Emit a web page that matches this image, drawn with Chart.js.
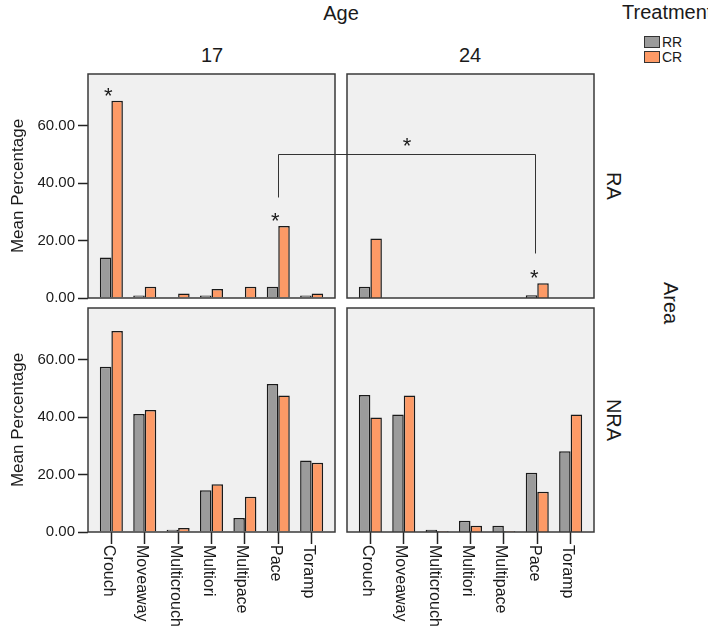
<!DOCTYPE html>
<html>
<head>
<meta charset="utf-8">
<script src="https://cdn.jsdelivr.net/npm/chart.js@4.4.1/dist/chart.umd.min.js"></script>
<style>
  body { margin: 0; background: #fff; width: 708px; height: 637px; position: relative; overflow: hidden;
         font-family: Arial, "Liberation Sans", sans-serif; color: #1a1a1a; }
  canvas { position: absolute; left: 0; top: 0; }
  .lbl { position: absolute; white-space: nowrap; line-height: 1; transform: translate(-50%, -50%); }
  .rot { transform: translate(-50%, -50%) rotate(90deg); }
  .key { position: absolute; width: 14px; height: 10px; border: 1.5px solid #333; }
</style>
</head>
<body>
<div class="lbl" style="left:341px;top:13px;font-size:20px">Age</div>
<div class="lbl" style="left:212px;top:55px;font-size:20px">17</div>
<div class="lbl" style="left:470px;top:55px;font-size:20px">24</div>
<div class="lbl rot" style="left:614px;top:186px;font-size:20px">RA</div>
<div class="lbl rot" style="left:614px;top:420px;font-size:20px">NRA</div>
<div class="lbl rot" style="left:671px;top:303px;font-size:20px">Area</div>
<div class="lbl" style="left:622px;top:12px;font-size:20px;transform:translate(0,-50%)">Treatment</div>
<div class="key" style="left:644px;top:36px;background:#9b9b9b"></div>
<div class="lbl" style="left:662px;top:42px;font-size:14px;transform:translate(0,-50%)">RR</div>
<div class="key" style="left:644px;top:51px;background:#fd9a66"></div>
<div class="lbl" style="left:662px;top:57px;font-size:14px;transform:translate(0,-50%)">CR</div>

<canvas id="c0" width="708" height="637"></canvas>
<canvas id="c1" width="708" height="637"></canvas>
<canvas id="c2" width="708" height="637"></canvas>
<canvas id="c3" width="708" height="637"></canvas>

<script>
// categories and tick values
const categories = ["Crouch", "Moveaway", "Multicrouch", "Multiori", "Multipace", "Pace", "Toramp"];
const treatments = ["RR", "CR"];
const yTicks = [0, 20, 40, 60];
const yMax = 78;

// mean percentage per panel (Area x Age), one array per treatment
const ra17RR  = [14.1, 0.9, null, 0.9, null, 3.9, 0.9];
const ra17CR  = [68.7, 3.9, 1.6, 3.1, 3.9, 25.1, 1.6];
const ra24RR  = [3.9, null, null, null, null, 1.0, null];
const ra24CR  = [20.7, null, null, null, null, 5.1, null];
const nra17RR = [57.5, 41.1, 0.8, 14.5, 4.9, 51.5, 24.9];
const nra17CR = [70.0, 42.5, 1.4, 16.6, 12.3, 47.5, 24.1];
const nra24RR = [47.7, 40.9, 0.8, 3.9, 2.2, 20.6, 28.1];
const nra24CR = [39.9, 47.5, 0.3, 2.2, 0.3, 14.0, 40.9];

// significance marks
const starCats = [["RA", "17", "Crouch"], ["RA", "17", "Pace"], ["RA", "24", "Pace"]];
const bracketCat = "Pace";
const bracketFrom = 35;   // level on 17 side
const bracketTop = 50;
const bracketTo = 15.5;   // level on 24 side

const colors = { RR: "#9b9b9b", CR: "#fd9a66" };
Chart.defaults.font.family = 'Arial, "Liberation Sans", sans-serif';
Chart.defaults.color = "#1a1a1a";

const panels = [
  { id: "c0", area: "RA",  age: "17", rr: ra17RR,  cr: ra17CR,  left: 88,  right: 335, top: 74,  bottom: 298 },
  { id: "c1", area: "RA",  age: "24", rr: ra24RR,  cr: ra24CR,  left: 347, right: 594, top: 74,  bottom: 298 },
  { id: "c2", area: "NRA", age: "17", rr: nra17RR, cr: nra17CR, left: 88,  right: 335, top: 308, bottom: 532 },
  { id: "c3", area: "NRA", age: "24", rr: nra24RR, cr: nra24CR, left: 347, right: 594, top: 308, bottom: 532 }
];

const charts = [];

const panelFrame = {
  id: "panelFrame",
  beforeDraw(chart) {
    const a = chart.chartArea, ctx = chart.ctx;
    ctx.save();
    ctx.fillStyle = "#f0f0f0";
    ctx.fillRect(a.left, a.top, a.right - a.left, a.bottom - a.top);
    ctx.restore();
  },
  afterDatasetsDraw(chart) {
    const a = chart.chartArea, ctx = chart.ctx;
    ctx.save();
    ctx.strokeStyle = "#3a3a3a";
    ctx.lineWidth = 1.5;
    ctx.strokeRect(a.left, a.top, a.right - a.left, a.bottom - a.top);
    ctx.restore();
  }
};

const extras = {
  id: "extras",
  afterDraw(chart, args, opts) {
    const p = opts.panel, ctx = chart.ctx;
    const xs = chart.scales.x, ys = chart.scales.y;
    ctx.save();
    ctx.fillStyle = "#1a1a1a";
    // category labels under the bottom row
    if (p.area === "NRA") {
      ctx.font = "16px Arial, 'Liberation Sans', sans-serif";
      ctx.textAlign = "left";
      ctx.textBaseline = "middle";
      categories.forEach((c, i) => {
        ctx.save();
        ctx.translate(xs.getPixelForValue(i) - 3, chart.chartArea.bottom + 13);
        ctx.rotate(Math.PI / 2);
        ctx.fillText(c, 0, 0);
        ctx.restore();
      });
    }
    // asterisks
    ctx.font = "22px Arial, 'Liberation Sans', sans-serif";
    ctx.textAlign = "center";
    ctx.textBaseline = "middle";
    starCats.filter(s => s[0] === p.area && s[1] === p.age).forEach(s => {
      const i = categories.indexOf(s[2]);
      const top = Math.max(p.rr[i] || 0, p.cr[i] || 0);
      ctx.fillText("*", xs.getPixelForValue(i) - 3, ys.getPixelForValue(top) - 4);
    });
    // bracket between Pace 17 and Pace 24 (RA)
    if (p.area === "RA" && p.age === "24" && charts[0]) {
      const a = charts[0];
      const i = categories.indexOf(bracketCat);
      const x1 = Math.round(a.scales.x.getPixelForValue(i)) + 0.5;
      const x2 = Math.round(xs.getPixelForValue(i)) - 1.5;
      const yT = Math.round(ys.getPixelForValue(bracketTop)) + 0.5;
      ctx.strokeStyle = "#333";
      ctx.lineWidth = 1;
      ctx.beginPath();
      ctx.moveTo(x1, a.scales.y.getPixelForValue(bracketFrom));
      ctx.lineTo(x1, yT);
      ctx.lineTo(x2, yT);
      ctx.lineTo(x2, ys.getPixelForValue(bracketTo));
      ctx.stroke();
      ctx.fillText("*", (x1 + x2) / 2, yT - 8);
    }
    ctx.restore();
  }
};

panels.forEach(p => {
  const showY = p.left < 100;
  const showX = p.area === "NRA";
  const chart = new Chart(document.getElementById(p.id), {
    type: "bar",
    data: {
      datasets: treatments.map(t => ({
        label: t,
        data: (t === "RR" ? p.rr : p.cr).map((v, i) => ({ x: i, y: v })),
        backgroundColor: colors[t],
        borderColor: "#1a1a1a",
        borderWidth: 1.5,
        categoryPercentage: 0.69,
        barPercentage: 1
      }))
    },
    options: {
      responsive: false,
      animation: false,
      devicePixelRatio: 1,
      layout: { padding: { left: showY ? 0 : p.left, right: 708 - p.right, top: p.top, bottom: 637 - p.bottom } },
      plugins: { legend: { display: false }, tooltip: { enabled: false }, extras: { panel: p } },
      scales: {
        x: {
          type: "linear",
          min: -0.7,
          max: 6.7,
          offset: false,
          display: showX,
          afterBuildTicks: s => { s.ticks = categories.map((c, i) => ({ value: i })); },
          afterFit: s => { s.height = 0; },
          ticks: { display: false },
          grid: { offset: false, drawOnChartArea: false, tickLength: 12, tickColor: "#222", tickWidth: 1.5 },
          border: { display: false }
        },
        y: {
          min: 0,
          max: yMax,
          display: showY,
          afterBuildTicks: s => { s.ticks = yTicks.map(v => ({ value: v })); },
          afterFit: s => { s.width = showY ? 88 : 0; },
          ticks: { font: { size: 15 }, padding: 3, callback: v => v.toFixed(2) },
          grid: { drawOnChartArea: false, tickLength: 10, tickColor: "#222", tickWidth: 1.5 },
          border: { display: false },
          title: { display: true, text: "Mean Percentage", font: { size: 17 }, padding: { top: 8, bottom: 0 } }
        }
      }
    },
    plugins: [panelFrame, extras]
  });
  charts.push(chart);
});
// redraw the bracket now that the left panel exists
charts[1].draw();
</script>
</body>
</html>
